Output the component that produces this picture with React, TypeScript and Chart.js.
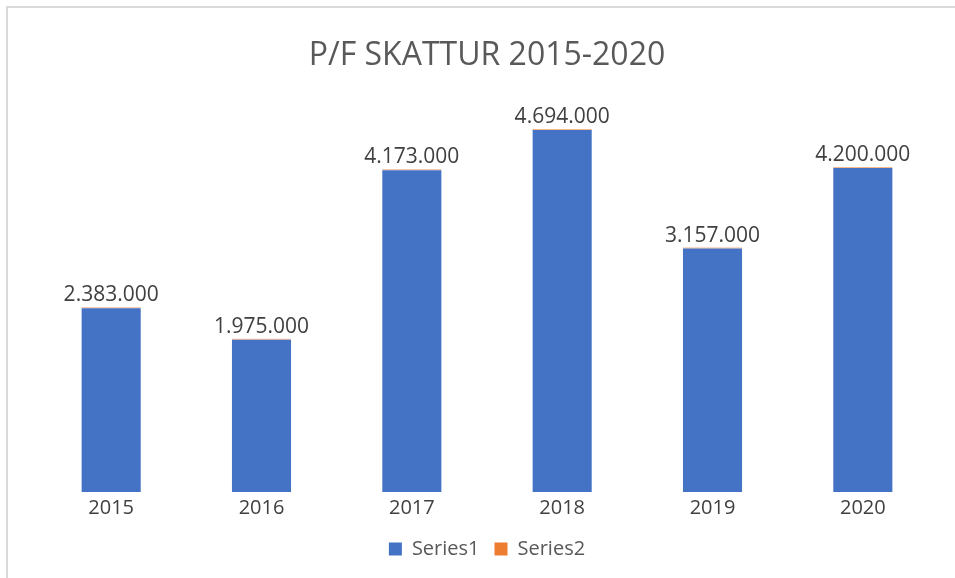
import React, { useEffect, useRef } from "react";
import { Chart, registerables } from "chart.js";

Chart.register(...registerables);

const TITLE = "P/F SKATTUR 2015-2020";
const CATEGORIES = ["2015", "2016", "2017", "2018", "2019", "2020"];
const SERIES1_NAME = "Series1";
const SERIES2_NAME = "Series2";
const SERIES1 = [2383000, 1975000, 4173000, 4694000, 3157000, 4200000];
const SERIES2 = [2015, 2016, 2017, 2018, 2019, 2020];
const Y_MAX = 5000000;

const BLUE = "#4472C4";
const ORANGE = "#ED7D31";
const FONT = "'Open Sans', 'Noto Sans', sans-serif";

function formatDots(v: number): string {
  return String(Math.round(v)).replace(/\B(?=(\d{3})+(?!\d))/g, ".");
}

const valueLabels = {
  id: "valueLabels",
  afterDatasetsDraw(chart: any) {
    const ctx = chart.ctx;
    const metaTop = chart.getDatasetMeta(1);
    const metaBase = chart.getDatasetMeta(0);
    ctx.save();
    ctx.font = `21px ${FONT}`;
    ctx.fillStyle = "#404040";
    ctx.textAlign = "center";
    ctx.textBaseline = "alphabetic";
    SERIES1.forEach((v, i) => {
      const el = metaTop.data[i] || metaBase.data[i];
      const base = metaBase.data[i];
      const top = Math.min(el.y, base.y);
      ctx.fillText(formatDots(v), base.x, top - 6);
    });
    ctx.restore();
  },
};

export default function App() {
  const ref = useRef<HTMLCanvasElement>(null);
  useEffect(() => {
    if (!ref.current) return;
    const chart = new Chart(ref.current, {
      type: "bar",
      data: {
        labels: CATEGORIES,
        datasets: [
          {
            label: SERIES1_NAME,
            data: SERIES1,
            backgroundColor: BLUE,
            categoryPercentage: 1,
            barPercentage: 0.393,
          },
          {
            label: SERIES2_NAME,
            data: SERIES2,
            backgroundColor: "rgba(237,125,49,0.55)",
            minBarLength: 1,
            categoryPercentage: 1,
            barPercentage: 0.393,
          },
        ],
      },
      options: {
        responsive: false,
        animation: false,
        layout: { padding: { left: 36, right: 17, top: 0, bottom: 9 } },
        plugins: {
          title: {
            display: true,
            text: TITLE,
            color: "#595959",
            font: { family: FONT, size: 32, weight: "normal" },
            padding: { top: 37, bottom: 31 },
          },
          legend: {
            position: "bottom",
            labels: {
              color: "#595959",
              font: { family: FONT, size: 20 },
              boxWidth: 13,
              boxHeight: 13,
              padding: 15,
              generateLabels: (c: any) => {
                const items = Chart.defaults.plugins.legend.labels.generateLabels(c);
                return items.map((it: any, i: number) => ({
                  ...it,
                  fillStyle: i === 0 ? BLUE : ORANGE,
                  strokeStyle: "rgba(0,0,0,0)",
                  lineWidth: 0,
                }));
              },
            },
          },
          tooltip: { enabled: false },
        },
        scales: {
          x: {
            stacked: true,
            grid: { display: false, drawTicks: false },
            border: { display: false },
            ticks: {
              color: "#404040",
              font: { family: FONT, size: 20 },
              padding: 4,
            },
          },
          y: {
            stacked: true,
            display: false,
            min: 0,
            max: Y_MAX,
          },
        },
      },
      plugins: [valueLabels],
    } as any);
    return () => chart.destroy();
  }, []);

  return (
    <div
      style={{
        position: "fixed",
        left: 0,
        top: 0,
        width: 955,
        height: 578,
        overflow: "hidden",
        background: "#fff",
      }}
    >
      <div
        style={{
          position: "absolute",
          left: 6,
          top: 6,
          width: 1000,
          height: 1000,
          border: "2px solid #d9d9d9",
          boxSizing: "border-box",
        }}
      />
      <canvas
        ref={ref}
        width={955}
        height={578}
        style={{ position: "absolute", left: 0, top: 0, width: 955, height: 578 }}
      />
    </div>
  );
}
